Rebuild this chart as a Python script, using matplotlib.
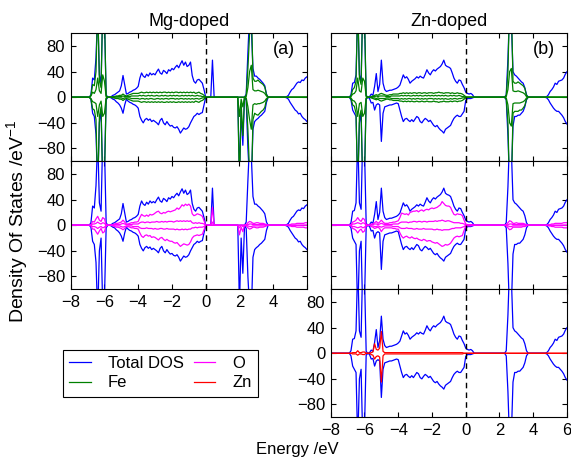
import numpy as np
import matplotlib.pyplot as plt

plt.rcParams['font.family'] = ['Liberation Sans', 'DejaVu Sans']
plt.rcParams['mathtext.default'] = 'regular'


def parse(s):
    a = np.array(s.split(), dtype=float)
    assert a.size == 141, a.size
    return a


# energy grid, -8 .. 6 eV in 0.1 eV steps (one row of values per eV)
energy = np.linspace(-8, 6, 141)

# ---------------- Mg-doped ----------------
mg_total_up = parse("""
0 0 0 0 0 0 0 0 0 0
0 0 4 30 27 62 135 35 22 140
125 4 0 0 1 3 4 6 8 10
18 34 19 5 6 8 9 11 12 14
17 30 38 33 31 36 33 38 35 37
35 40 44 38 36 42 40 37 43 41
45 43 47 50 46 52 57 50 55 48
50 55 34 25 22 27 28 25 22 12
0 0 0 0 58 0 0 0 0 0
0 0 0 0 0 0 0 0 0 0
0 0 0 0 5 70 130 110 45 33
33 30 28 25 22 18 5 0 0 0
0 0 0 0 0 0 0 0 1 3
8 12 14 18 22 24 23 27 26 30
32
""")
mg_total_dn = parse("""
0 0 0 0 0 0 0 0 0 0
0 0 -3 -25 -30 -58 -140 -40 -20 -130
-115 -4 0 0 -1 -3 -4 -7 -9 -12
-17 -25 -12 -3 -6 -8 -9 -11 -12 -14
-17 -30 -36 -40 -35 -33 -36 -34 -38 -36
-38 -40 -43 -36 -33 -40 -43 -38 -42 -45
-44 -47 -48 -46 -50 -56 -52 -48 -50 -49
-46 -40 -35 -30 -28 -25 -27 -25 -24 -12
0 0 0 0 0 0 0 0 0 0
0 0 0 0 0 0 0 0 0 0
-125 -20 -75 0 -5 -80 -130 -140 -50 -38
-35 -33 -30 -28 -25 -22 -8 0 0 0
0 0 0 0 0 0 0 0 -1 -3
-8 -12 -16 -20 -22 -26 -25 -30 -33 -35
-38
""")
mg_fe1_up = parse("""
0 0 0 0 0 0 0 0 0 0
0 0 3 20 18 40 150 25 15 150
130 2 0 0 0 1 1 2 2 3
3 5 3 2 3 4 5 6 6 6
6 7 8 7 7 8 7 8 7 8
7 8 7 8 7 8 8 7 8 7
8 7 8 8 7 8 7 8 7 8
7 8 7 8 6 7 8 6 5 3
0 0 0 0 0 0 0 0 0 0
0 0 0 0 0 0 0 0 0 0
0 0 0 0 3 45 100 150 30 25
25 27 24 22 20 16 4 0 0 0
0 0 0 0 0 0 0 0 0 0
0 0 0 0 0 0 0 0 0 0
0
""")
mg_fe1_dn = parse("""
0 0 0 0 0 0 0 0 0 0
0 0 -3 -18 -20 -35 -150 -30 -15 -150
-130 -2 0 0 0 -1 -1 -2 -2 -3
-3 -5 -3 -2 -3 -4 -5 -6 -6 -6
-6 -7 -8 -7 -7 -8 -7 -8 -7 -8
-7 -8 -7 -8 -7 -8 -8 -7 -8 -7
-8 -7 -8 -8 -7 -8 -7 -8 -7 -8
-7 -8 -7 -8 -6 -7 -8 -6 -5 -3
0 0 0 0 0 0 0 0 0 0
0 0 0 0 0 0 0 0 0 0
-140 -10 -60 0 -3 -50 -120 -150 -35 -25
-27 -28 -25 -22 -20 -16 -4 0 0 0
0 0 0 0 0 0 0 0 0 0
0 0 0 0 0 0 0 0 0 0
0
""")
mg_fe2_up = parse("""
0 0 0 0 0 0 0 0 0 0
0 0 2 8 6 12 30 10 6 35
25 1 0 0 0 0 1 1 1 1
1 2 1 1 1 1 2 2 2 2
2 3 2 3 2 2 3 2 3 2
2 3 2 2 3 2 3 2 2 3
2 3 2 3 2 2 3 2 3 2
3 2 3 2 2 3 2 2 1 1
0 0 0 0 0 0 0 0 0 0
0 0 0 0 0 0 0 0 0 0
0 0 0 0 1 15 40 50 12 10
10 11 10 9 8 6 2 0 0 0
0 0 0 0 0 0 0 0 0 0
0 0 0 0 0 0 0 0 0 0
0
""")
mg_fe2_dn = parse("""
0 0 0 0 0 0 0 0 0 0
0 0 -2 -7 -8 -10 -30 -12 -6 -30
-25 -1 0 0 0 0 -1 -1 -1 -1
-1 -2 -1 -1 -1 -1 -2 -2 -2 -2
-2 -3 -2 -2 -3 -2 -3 -2 -2 -3
-3 -2 -2 -3 -2 -3 -2 -2 -3 -2
-2 -2 -3 -2 -3 -2 -2 -3 -2 -3
-2 -3 -2 -3 -2 -2 -3 -2 -1 -1
0 0 0 0 0 0 0 0 0 0
0 0 0 0 0 0 0 0 0 0
-30 -3 -15 0 -1 -15 -35 -50 -12 -10
-11 -10 -10 -9 -8 -6 -2 0 0 0
0 0 0 0 0 0 0 0 0 0
0 0 0 0 0 0 0 0 0 0
0
""")
mg_o1_up = parse("""
0 0 0 0 0 0 0 0 0 0
0 0 1 6 5 10 14 8 6 12
10 1 0 0 0 1 2 3 3 4
5 8 5 2 2 3 4 4 5 5
6 12 17 15 14 16 14 17 16 17
19 21 22 19 18 20 19 21 22 21
22 23 24 27 25 28 32 30 33 31
33 30 18 15 16 18 17 16 14 7
0 0 0 0 28 0 0 0 0 0
0 0 0 0 0 0 0 0 0 0
0 0 0 0 1 4 6 5 3 3
4 4 3 3 3 2 1 0 0 0
0 0 0 0 0 0 0 0 0 1
1 2 2 2 3 3 3 3 3 4
4
""")
mg_o1_dn = parse("""
0 0 0 0 0 0 0 0 0 0
0 0 -1 -6 -6 -10 -14 -9 -5 -12
-10 -1 0 0 0 -1 -2 -3 -3 -4
-5 -7 -5 -2 -2 -3 -4 -4 -5 -5
-6 -12 -17 -19 -16 -15 -17 -16 -19 -18
-19 -21 -23 -20 -19 -22 -24 -22 -24 -25
-25 -27 -28 -27 -30 -33 -31 -29 -30 -31
-30 -26 -20 -17 -16 -15 -16 -15 -14 -7
0 0 0 0 0 0 0 0 0 0
0 0 0 0 0 0 0 0 0 0
-15 -3 -10 0 -1 -4 -6 -5 -3 -3
-4 -4 -3 -3 -3 -2 -1 0 0 0
0 0 0 0 0 0 0 0 0 -1
-1 -2 -2 -2 -3 -3 -3 -3 -3 -4
-4
""")
mg_o2_up = parse("""
0 0 0 0 0 0 0 0 0 0
0 0 0 2 2 3 5 3 2 4
3 0 0 0 0 0 1 1 1 1
2 3 2 1 1 1 1 2 2 2
2 4 5 5 4 5 5 4 5 5
5 6 5 5 6 5 6 5 6 6
6 5 6 7 6 7 6 7 6 7
6 7 4 3 4 3 4 3 3 2
0 0 0 0 5 0 0 0 0 0
0 0 0 0 0 0 0 0 0 0
0 0 0 0 0 1 2 2 1 1
1 1 1 1 1 1 0 0 0 0
0 0 0 0 0 0 0 0 0 0
0 0 0 0 0 0 0 0 0 0
0
""")
mg_o2_dn = parse("""
0 0 0 0 0 0 0 0 0 0
0 0 0 -2 -2 -3 -5 -3 -2 -4
-3 0 0 0 0 0 -1 -1 -1 -1
-2 -3 -2 -1 -1 -1 -1 -2 -2 -2
-2 -4 -5 -5 -5 -4 -5 -5 -5 -6
-5 -6 -6 -5 -5 -6 -6 -5 -6 -6
-6 -6 -7 -6 -7 -7 -6 -7 -6 -7
-6 -6 -4 -4 -3 -4 -3 -3 -3 -2
0 0 0 0 0 0 0 0 0 0
0 0 0 0 0 0 0 0 0 0
-4 0 -2 0 0 -1 -2 -2 -1 -1
-1 -1 -1 -1 -1 -1 0 0 0 0
0 0 0 0 0 0 0 0 0 0
0 0 0 0 0 0 0 0 0 0
0
""")

# ---------------- Zn-doped ----------------
zn_total_up = parse("""
0 0 0 0 0 0 0 0 0 0
0 0 4 22 23 35 140 35 25 145
120 3 0 1 5 3 17 37 9 20
58 22 12 9 10 11 11 12 13 14
16 19 27 35 30 32 28 22 25 27
29 32 30 33 31 30 36 43 38 35
40 43 41 44 46 48 52 58 50 48
47 45 38 30 25 22 27 26 20 15
8 6 5 6 4 0 0 0 0 0
0 0 0 0 0 0 0 0 0 0
0 0 0 0 4 60 140 120 40 35
33 30 27 24 22 15 4 0 0 0
0 0 0 0 0 0 0 0 1 4
9 12 16 22 20 25 26 27 30 36
40
""")
zn_total_dn = parse("""
0 0 0 0 0 0 0 0 0 0
0 0 -4 -20 -25 -30 -140 -40 -25 -140
-120 -3 0 -2 -9 -8 -20 -12 -10 -12
-69 -25 -15 -14 -13 -12 -12 -11 -10 -9
-10 -20 -30 -38 -34 -33 -36 -38 -35 -38
-34 -30 -32 -38 -40 -36 -33 -35 -38 -36
-40 -44 -46 -44 -48 -51 -53 -56 -50 -48
-46 -44 -38 -33 -30 -28 -30 -30 -26 -22
-5 -2 -2 -2 -1 0 0 0 0 0
0 0 0 0 0 0 0 0 0 0
0 0 0 0 -4 -60 -140 -130 -45 -30
-30 -28 -28 -25 -22 -15 -4 0 0 0
0 0 0 0 0 0 0 0 -1 -4
-9 -13 -17 -20 -22 -22 -25 -28 -32 -38
-42
""")
zn_fe1_up = parse("""
0 0 0 0 0 0 0 0 0 0
0 0 2 12 15 25 150 30 20 150
130 2 0 0 1 2 3 4 3 5
6 5 4 3 3 4 4 5 5 5
5 6 6 7 6 7 6 7 6 7
7 6 7 7 6 7 7 6 7 7
7 6 7 7 8 7 7 6 7 7
7 6 7 6 6 7 6 6 5 3
1 0 0 0 0 0 0 0 0 0
0 0 0 0 0 0 0 0 0 0
0 0 0 0 3 40 150 150 25 22
22 24 22 20 18 14 3 0 0 0
0 0 0 0 0 0 0 0 0 0
0 0 0 0 0 0 0 0 0 0
0
""")
zn_fe1_dn = parse("""
0 0 0 0 0 0 0 0 0 0
0 0 -2 -12 -14 -25 -150 -30 -20 -150
-130 -2 0 0 -1 -2 -3 -4 -3 -5
-6 -5 -4 -3 -3 -4 -4 -5 -5 -5
-5 -6 -6 -7 -6 -7 -6 -7 -6 -7
-7 -6 -7 -7 -6 -7 -7 -6 -7 -7
-7 -6 -7 -7 -8 -7 -7 -6 -7 -7
-7 -6 -7 -6 -6 -7 -6 -6 -5 -3
-1 0 0 0 0 0 0 0 0 0
0 0 0 0 0 0 0 0 0 0
0 0 0 0 -3 -40 -150 -150 -25 -22
-22 -22 -20 -20 -17 -13 -3 0 0 0
0 0 0 0 0 0 0 0 0 0
0 0 0 0 0 0 0 0 0 0
0
""")
zn_fe2_up = parse("""
0 0 0 0 0 0 0 0 0 0
0 0 1 5 6 10 30 10 8 30
25 1 0 0 0 1 1 2 1 2
2 2 2 1 1 1 2 2 2 2
2 2 3 2 3 2 3 2 2 3
2 3 2 3 2 2 3 2 3 2
3 2 3 2 3 2 3 2 3 2
2 3 2 3 2 2 3 2 1 1
0 0 0 0 0 0 0 0 0 0
0 0 0 0 0 0 0 0 0 0
0 0 0 0 1 12 40 45 10 9
9 10 9 8 7 5 1 0 0 0
0 0 0 0 0 0 0 0 0 0
0 0 0 0 0 0 0 0 0 0
0
""")
zn_fe2_dn = parse("""
0 0 0 0 0 0 0 0 0 0
0 0 -1 -5 -6 -10 -30 -10 -8 -30
-25 -1 0 0 0 -1 -1 -2 -1 -2
-2 -2 -2 -1 -1 -1 -2 -2 -2 -2
-2 -3 -2 -3 -2 -3 -2 -2 -3 -2
-3 -2 -2 -3 -2 -3 -2 -3 -2 -2
-2 -3 -2 -3 -2 -3 -2 -3 -2 -3
-3 -2 -3 -2 -2 -3 -2 -2 -1 -1
0 0 0 0 0 0 0 0 0 0
0 0 0 0 0 0 0 0 0 0
0 0 0 0 -1 -12 -40 -45 -10 -9
-9 -9 -9 -8 -7 -5 -1 0 0 0
0 0 0 0 0 0 0 0 0 0
0 0 0 0 0 0 0 0 0 0
0
""")
zn_o1_up = parse("""
0 0 0 0 0 0 0 0 0 0
0 0 1 5 6 8 12 8 6 11
9 1 0 0 2 2 4 6 3 5
8 5 3 3 3 4 4 5 5 6
7 12 19 18 17 18 16 20 21 22
22 23 21 23 24 22 24 25 24 26
27 26 27 28 30 32 37 34 31 30
30 28 22 17 16 18 17 17 15 8
2 1 1 1 1 0 0 0 0 0
0 0 0 0 0 0 0 0 0 0
0 0 0 0 1 4 7 6 3 3
4 3 3 3 3 2 1 0 0 0
0 0 0 0 0 0 0 0 0 1
1 2 2 3 3 3 3 3 4 4
4
""")
zn_o1_dn = parse("""
0 0 0 0 0 0 0 0 0 0
0 0 -1 -5 -6 -8 -12 -8 -6 -11
-9 -1 0 0 -2 -3 -5 -4 -3 -5
-10 -6 -4 -4 -4 -4 -4 -5 -5 -6
-6 -12 -17 -20 -18 -17 -19 -20 -18 -20
-21 -20 -22 -23 -24 -22 -23 -25 -24 -24
-26 -27 -28 -27 -29 -31 -33 -32 -30 -31
-30 -28 -24 -20 -18 -17 -18 -17 -16 -8
-1 -1 -1 -1 0 0 0 0 0 0
0 0 0 0 0 0 0 0 0 0
0 0 0 0 -1 -4 -7 -6 -3 -3
-3 -3 -3 -3 -2 -2 -1 0 0 0
0 0 0 0 0 0 0 0 0 -1
-1 -2 -2 -3 -3 -3 -3 -3 -4 -4
-4
""")
zn_o2_up = parse("""
0 0 0 0 0 0 0 0 0 0
0 0 0 2 2 3 4 3 2 4
3 0 0 0 1 1 2 2 1 2
3 2 1 1 1 1 1 2 2 2
2 4 5 5 5 5 4 5 5 6
6 5 6 6 5 6 6 5 6 6
6 6 7 6 7 7 8 7 6 7
7 6 5 4 4 4 4 3 3 2
1 0 0 0 0 0 0 0 0 0
0 0 0 0 0 0 0 0 0 0
0 0 0 0 0 1 2 2 1 1
1 1 1 1 1 1 0 0 0 0
0 0 0 0 0 0 0 0 0 0
0 0 0 0 0 0 0 0 0 0
0
""")
zn_o2_dn = parse("""
0 0 0 0 0 0 0 0 0 0
0 0 0 -2 -2 -3 -4 -3 -2 -4
-3 0 0 0 -1 -1 -2 -2 -1 -2
-3 -2 -1 -1 -1 -1 -1 -2 -2 -2
-2 -4 -5 -5 -5 -4 -5 -5 -5 -6
-6 -5 -6 -6 -6 -5 -6 -6 -6 -6
-6 -7 -7 -6 -7 -7 -8 -7 -7 -7
-7 -6 -5 -5 -4 -4 -4 -4 -3 -2
0 0 0 0 0 0 0 0 0 0
0 0 0 0 0 0 0 0 0 0
0 0 0 0 0 -1 -2 -2 -1 -1
-1 -1 -1 -1 -1 -1 0 0 0 0
0 0 0 0 0 0 0 0 0 0
0 0 0 0 0 0 0 0 0 0
0
""")
zn_zn_up = parse("""
0 0 0 0 0 0 0 0 0 0
0 0 0 1 1 1 4 1 1 2
2 0 0 0 1 2 15 6 5 8
34 3 1 1 1 1 1 1 1 1
1 1 1 1 1 1 1 1 1 1
1 1 1 1 1 1 1 1 1 1
1 1 1 1 1 1 1 1 1 1
1 1 1 1 1 1 1 1 1 0
0 0 0 0 0 0 0 0 0 0
0 0 0 0 0 0 0 0 0 0
0 0 0 0 0 0 0 0 0 0
0 0 0 0 0 0 0 0 0 0
0 0 0 0 0 0 0 0 0 0
0 0 0 0 0 0 0 0 0 0
0
""")
zn_zn_dn = parse("""
0 0 0 0 0 0 0 0 0 0
0 0 0 -1 -1 -1 -3 -1 -1 -2
-2 0 0 0 -2 -3 -9 -5 -4 -6
-45 -4 -1 -1 -1 -1 -1 -1 -1 -1
-1 -1 -1 -1 -1 -1 -1 -1 -1 -1
-1 -1 -1 -1 -1 -1 -1 -1 -1 -1
-1 -1 -1 -1 -1 -1 -1 -1 -1 -1
-1 -1 -1 -1 -1 -1 -1 -1 -1 0
0 0 0 0 0 0 0 0 0 0
0 0 0 0 0 0 0 0 0 0
0 0 0 0 0 0 0 0 0 0
0 0 0 0 0 0 0 0 0 0
0 0 0 0 0 0 0 0 0 0
0 0 0 0 0 0 0 0 0 0
0
""")

titles = ['Mg-doped', 'Zn-doped']
tags = ['(a)', '(b)']
x_ticks = [-8, -6, -4, -2, 0, 2, 4, 6]
y_ticks = [-80, -40, 0, 40, 80]
c_tot, c_fe, c_o, c_zn = '#0000ff', '#008000', '#ff00ff', '#ff0000'

fig = plt.figure(figsize=(5.71, 4.58), dpi=100)
W, H = 0.4138, 0.2795
lefts = [0.1238, 0.5792]
bottoms = [0.6479, 0.3684, 0.0889]

mg_total = (mg_total_up, mg_total_dn)
zn_total = (zn_total_up, zn_total_dn)
layout = [
    # (col, row, total, partial curves, colour, show x labels, show y labels)
    (0, 0, mg_total, [mg_fe1_up, mg_fe1_dn, mg_fe2_up, mg_fe2_dn], c_fe, False, True),
    (0, 1, mg_total, [mg_o1_up, mg_o1_dn, mg_o2_up, mg_o2_dn], c_o, True, True),
    (1, 0, zn_total, [zn_fe1_up, zn_fe1_dn, zn_fe2_up, zn_fe2_dn], c_fe, False, False),
    (1, 1, zn_total, [zn_o1_up, zn_o1_dn, zn_o2_up, zn_o2_dn], c_o, False, False),
    (1, 2, zn_total, [zn_zn_up, zn_zn_dn], c_zn, True, True),
]

handles = {}
for col, row, total, parts, color, xlab, ylab in layout:
    ax = fig.add_axes([lefts[col], bottoms[row], W, H])
    for t in total:
        h_tot, = ax.plot(energy, t, color=c_tot, lw=0.9)
    for p in parts:
        h_p, = ax.plot(energy, p, color=color, lw=0.9)
    handles[color] = h_p
    handles[c_tot] = h_tot
    ax.axvline(0, color='k', ls=(0, (4, 3)), lw=1.0)
    ax.set_xlim(-8, 6)
    ax.set_ylim(-100, 100)
    ax.set_xticks(x_ticks)
    ax.set_yticks(y_ticks)
    if xlab and col == 0:
        # last label of the left column is left out (room for the right panel)
        ax.set_xticklabels([f'{v:g}'.replace('-', '\u2212') for v in x_ticks[:-1]] + [''])
    ax.tick_params(direction='in', top=True, right=True, length=3.5,
                   labelsize=12, pad=4, width=0.8,
                   labelbottom=xlab, labelleft=ylab)
    for s in ax.spines.values():
        s.set_linewidth(0.8)
    if row == 0:
        ax.set_title(titles[col], fontsize=13, pad=5)
        ax.text(0.95, 0.87, tags[col], transform=ax.transAxes,
                ha='right', va='center', fontsize=13)

fig.text(0.030, 0.517, 'Density Of States /eV$^{-1}$', rotation=90,
         ha='center', va='center', fontsize=14)
fig.text(0.52, 0.009, 'Energy /eV', ha='center', va='baseline', fontsize=12)

leg = fig.legend([handles[c_tot], handles[c_fe], handles[c_o], handles[c_zn]],
                 ['Total DOS', 'Fe', 'O', 'Zn'], ncol=2,
                 loc='lower left', bbox_to_anchor=(0.110, 0.133),
                 fontsize=12, handlelength=1.3, handletextpad=1.0,
                 columnspacing=0.6, labelspacing=0.25, borderpad=0.4,
                 fancybox=False, framealpha=1, borderaxespad=0)
leg.get_frame().set_edgecolor('k')
leg.get_frame().set_linewidth(0.8)

fig.savefig('out.png', dpi=100)
